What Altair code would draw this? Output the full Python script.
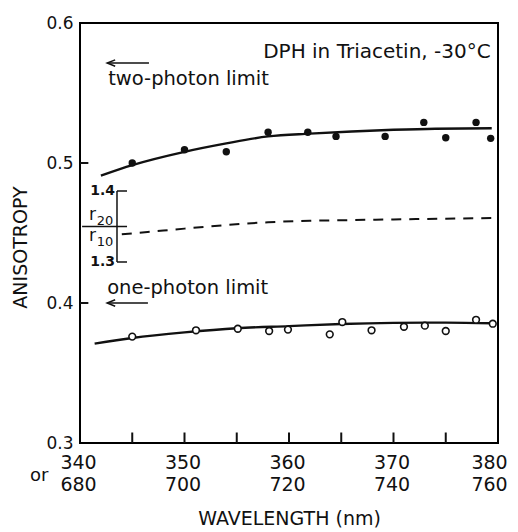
import altair as alt
import pandas as pd

# ---- data ----
lam_two = [345.0, 350.0, 354.0, 358.0, 361.8, 364.5, 369.2, 372.9, 375.0, 377.9, 379.3]
r_two = [0.500, 0.5095, 0.508, 0.522, 0.522, 0.519, 0.519, 0.529, 0.518, 0.529, 0.5176]

lam_one = [345.0, 351.1, 355.1, 358.1, 359.9, 363.9, 365.1, 367.9, 371.0, 373.0, 375.0, 377.9, 379.5]
r_one = [0.376, 0.3805, 0.3816, 0.380, 0.381, 0.3776, 0.3864, 0.3805, 0.383, 0.3838, 0.380, 0.388, 0.3852]

fit_two_lam = [342.0, 345.0, 350.0, 354.0, 358.0, 362.0, 366.0, 370.0, 374.0, 379.4]
fit_two_r = [0.491, 0.4985, 0.508, 0.514, 0.519, 0.521, 0.5225, 0.5237, 0.5245, 0.5248]

fit_one_lam = [341.4, 345.0, 350.0, 355.0, 360.0, 365.0, 370.0, 375.0, 379.5]
fit_one_r = [0.371, 0.375, 0.379, 0.382, 0.3835, 0.385, 0.3858, 0.386, 0.3855]

ratio_lam = [344.0, 347.0, 350.0, 354.0, 358.0, 362.0, 366.0, 370.0, 375.0, 379.5]
ratio_val = [1.339, 1.343, 1.347, 1.352, 1.356, 1.358, 1.359, 1.360, 1.361, 1.362]

x_label_values = [340, 350, 360, 370, 380]
x_minor_ticks = [345, 350, 355, 360, 365, 370, 375]
y_label_values = [0.3, 0.4, 0.5, 0.6]
y_minor_ticks = [0.4, 0.5]

limit_two = 0.5714
limit_one = 0.4

FONT = "DejaVu Sans"
INK = "#111111"

xs = alt.Scale(domain=[340, 380], nice=False, zero=False)
ys = alt.Scale(domain=[0.3, 0.6], nice=False, zero=False)
RATIO_CALC = "0.48 + (datum.ratio - 1.4) * 0.5071"


def X(f="x"):
    return alt.X(f"{f}:Q", scale=xs)


def Y(f="y"):
    return alt.Y(f"{f}:Q", scale=ys)


base = alt.Chart(pd.DataFrame({"x": lam_two, "y": r_two})).mark_point(
    filled=True, color=INK, size=55, opacity=1
).encode(
    x=alt.X("x:Q", scale=xs, title="WAVELENGTH (nm)",
            axis=alt.Axis(values=x_label_values, labelFlush=False,
                          labelOffset={"condition": {"test": "datum.value == 380", "value": -9}, "value": -2},
                          labelExpr="[datum.label, format(datum.value * 2, 'd')]")),
    y=alt.Y("y:Q", scale=ys, title="ANISOTROPY",
            axis=alt.Axis(values=y_label_values, format=".1f", titleY=224)),
)

fit_two = alt.Chart(pd.DataFrame({"x": fit_two_lam, "y": fit_two_r})).mark_line(
    color=INK, strokeWidth=2.4, interpolate="monotone"
).encode(x=X(), y=Y())

fit_one = alt.Chart(pd.DataFrame({"x": fit_one_lam, "y": fit_one_r})).mark_line(
    color=INK, strokeWidth=2.4, interpolate="monotone"
).encode(x=X(), y=Y())

open_pts = alt.Chart(pd.DataFrame({"x": lam_one, "y": r_one})).mark_point(
    filled=True, fill="white", stroke=INK, strokeWidth=1.6, size=45, opacity=1
).encode(x=X(), y=Y())

dashed = alt.Chart(pd.DataFrame({"x": ratio_lam, "ratio": ratio_val})).transform_calculate(
    y=RATIO_CALC
).mark_line(color=INK, strokeWidth=2, strokeDash=[10, 8], interpolate="monotone").encode(x=X(), y=Y())

# inward ticks on bottom and left
bt = alt.Chart(pd.DataFrame({"x": x_minor_ticks})).transform_calculate(
    yb="0.3", yt="0.3075"
).mark_rule(color=INK, strokeWidth=2).encode(x=X(), y=Y("yb"), y2="yt:Q")
lt = alt.Chart(pd.DataFrame({"y": y_minor_ticks})).transform_calculate(
    xa="340", xb="340.8"
).mark_rule(color=INK, strokeWidth=2).encode(x=X("xa"), x2="xb:Q", y=Y())

# arrows for the limits
arrow_shaft = alt.Chart(pd.DataFrame({"x": [342.65, 342.65], "x2": [346.6, 346.5],
                                      "y": [limit_two, limit_one]})).mark_rule(
    color=INK, strokeWidth=1.5).encode(x=X(), x2="x2:Q", y=Y())
arrow_head = alt.Chart(pd.DataFrame({"x": [342.6, 342.6], "y": [limit_two, limit_one]})).mark_point(
    shape="M 2 -0.8 L 0 0 L 2 0.8", filled=False, stroke=INK, strokeWidth=1.5, size=64, opacity=1
).encode(x=X(), y=Y())

# inset ratio axis
inset_axis = alt.Chart(pd.DataFrame({"x": [343.54], "ratio": [1.3], "ratio2": [1.4]})).transform_calculate(
    y=RATIO_CALC, y2="0.48 + (datum.ratio2 - 1.4) * 0.5071"
).mark_rule(color=INK, strokeWidth=1.5).encode(x=X(), y=Y(), y2="y2:Q")
inset_ticks = alt.Chart(pd.DataFrame({"x": [343.54, 340.2, 343.54], "x2": [344.5, 344.5, 344.5],
                                      "ratio": [1.4, 1.35, 1.3]})).transform_calculate(
    y=RATIO_CALC).mark_rule(color=INK, strokeWidth=1.5).encode(x=X(), x2="x2:Q", y=Y())
inset_labels = alt.Chart(pd.DataFrame({"x": [343.35, 343.35], "ratio": [1.4, 1.3],
                                       "t": ["1.4", "1.3"]})).transform_calculate(
    y=RATIO_CALC).mark_text(align="right", baseline="middle", font=FONT, fontSize=14,
                            fontWeight="bold", color=INK).encode(x=X(), y=Y(), text="t:N")
r_letters = alt.Chart(pd.DataFrame({"x": [341.2, 341.2], "ratio": [1.3655, 1.3366],
                                    "t": ["r", "r"]})).transform_calculate(
    y=RATIO_CALC).mark_text(align="center", baseline="middle", font=FONT, fontSize=17,
                            color=INK).encode(x=X(), y=Y(), text="t:N")
r_subs = alt.Chart(pd.DataFrame({"x": [342.4, 342.4], "ratio": [1.3577, 1.3282],
                                 "t": ["20", "10"]})).transform_calculate(
    y=RATIO_CALC).mark_text(align="center", baseline="middle", font=FONT, fontSize=13,
                            color=INK).encode(x=X(), y=Y(), text="t:N")

# annotations
ann = alt.Chart(pd.DataFrame({
    "x": [379.3, 342.7, 342.6, 336.1],
    "y": [0.5793, 0.560, 0.4107, 0.2764],
    "t": ["DPH in Triacetin, -30°C", "two-photon limit", "one-photon limit", "or"],
    "a": ["right", "left", "left", "center"],
}))
ann_right = ann.transform_filter("datum.a == 'right'").mark_text(
    align="right", baseline="middle", font=FONT, fontSize=20, color=INK).encode(x=X(), y=Y(), text="t:N")
ann_left = ann.transform_filter("datum.a == 'left'").mark_text(
    align="left", baseline="middle", font=FONT, fontSize=19.5, color=INK).encode(x=X(), y=Y(), text="t:N")
ann_center = ann.transform_filter("datum.a == 'center'").mark_text(
    align="center", baseline="middle", font=FONT, fontSize=18, color=INK).encode(x=X(), y=Y(), text="t:N")

chart = alt.layer(
    base, fit_two, fit_one, open_pts, dashed, bt, lt, arrow_shaft, arrow_head,
    inset_axis, inset_ticks, inset_labels, r_letters, r_subs, ann_right, ann_left, ann_center
).properties(
    width=418, height=420,
    autosize=alt.AutoSizeParams(type="none"),
    padding={"left": 80, "top": 23, "right": 20, "bottom": 89},
    background="white",
).configure_view(
    stroke="black", strokeWidth=2
).configure_axis(
    domain=False, ticks=False, grid=False,
    labelFont=FONT, titleFont=FONT, labelColor=INK, titleColor=INK,
    titleFontWeight="normal",
).configure_axisX(
    labelFontSize=19, labelLineHeight=22, labelPadding=10,
    titleFontSize=19, titlePadding=15,
).configure_axisY(
    labelFontSize=17, labelPadding=7, titleFontSize=19, titlePadding=15,
)

chart.save("out.html", embed_options={"renderer": "svg", "actions": False})
